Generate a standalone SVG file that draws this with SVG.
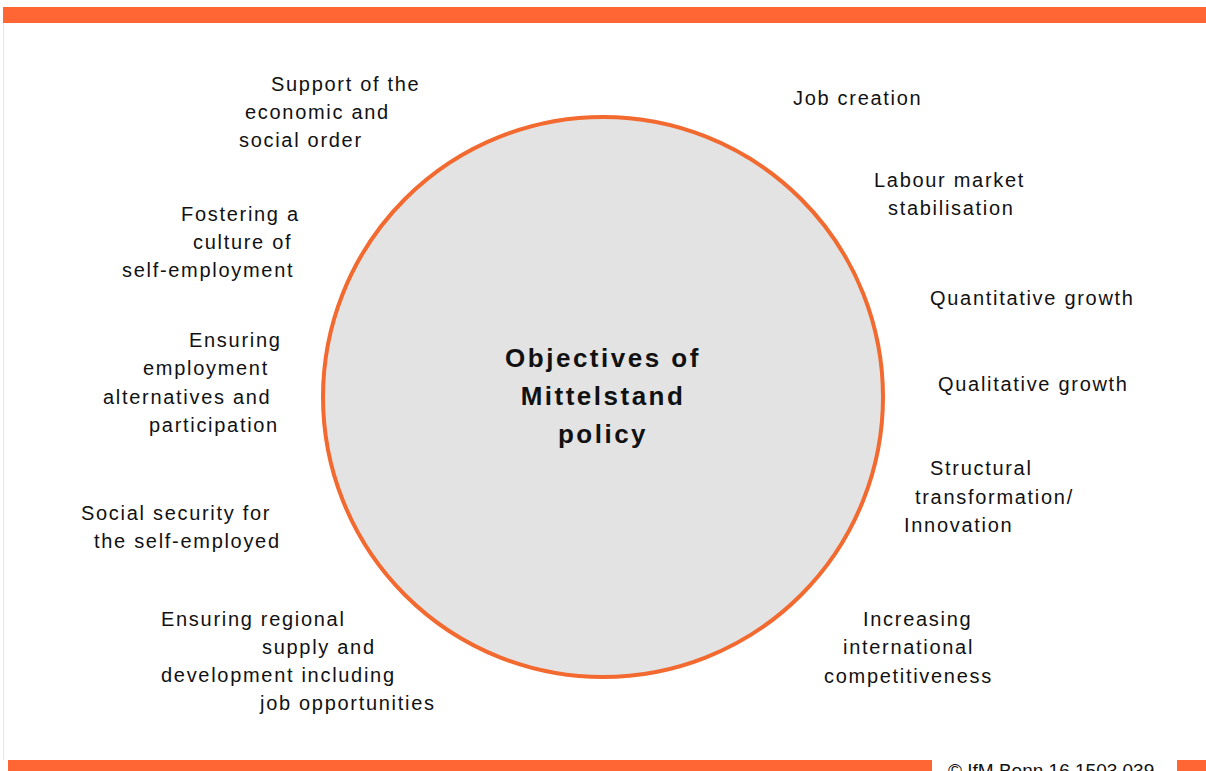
<svg xmlns="http://www.w3.org/2000/svg" width="1206" height="771" viewBox="0 0 1206 771">
<style>
.bar{fill:#FF6633}
.lbl{font-family:"Liberation Sans",Arial,sans-serif;font-size:20px;fill:#111;letter-spacing:1.7px}
.title{font-family:"Liberation Sans",Arial,sans-serif;font-size:26px;font-weight:bold;fill:#111;letter-spacing:2.5px;text-anchor:middle}
.copy{font-family:"Liberation Sans",Arial,sans-serif;font-size:19px;fill:#111}
</style>
<rect width="1206" height="771" fill="#ffffff"/>
<g id="frame">
<line x1="3.5" y1="23" x2="3.5" y2="760" stroke="#e6e6e6" stroke-width="1"/>
<rect class="bar" x="3" y="7" width="1203" height="16"/>
<rect class="bar" x="8" y="760" width="924" height="12"/>
<rect class="bar" x="1177" y="760" width="29" height="12"/>
<text class="copy" x="948" y="777">© IfM Bonn 16 1503 039</text>
</g>
<g id="center">
<circle cx="603" cy="397" r="280" fill="#e3e3e3" stroke="#F26A30" stroke-width="4"/>
<text class="title" x="603" y="367">Objectives of</text>
<text class="title" x="603" y="405">Mittelstand</text>
<text class="title" x="603" y="443">policy</text>
</g>
<g id="connectors"></g>
<g id="obj-support">
<text class="lbl" x="271" y="91">Support of the</text>
<text class="lbl" x="245" y="119">economic and</text>
<text class="lbl" x="239" y="147">social order</text>
</g>
<g id="obj-culture">
<text class="lbl" x="181" y="221">Fostering a</text>
<text class="lbl" x="193" y="249">culture of</text>
<text class="lbl" x="122" y="277">self-employment</text>
</g>
<g id="obj-employment">
<text class="lbl" x="189" y="347">Ensuring</text>
<text class="lbl" x="143" y="375">employment</text>
<text class="lbl" x="103" y="404">alternatives and</text>
<text class="lbl" x="149" y="432">participation</text>
</g>
<g id="obj-social">
<text class="lbl" x="81" y="520">Social security for</text>
<text class="lbl" x="94" y="548">the self-employed</text>
</g>
<g id="obj-regional">
<text class="lbl" x="161" y="626">Ensuring regional</text>
<text class="lbl" x="262" y="654">supply and</text>
<text class="lbl" x="161" y="682">development including</text>
<text class="lbl" x="260" y="710">job opportunities</text>
</g>
<g id="obj-jobs">
<text class="lbl" x="793" y="105">Job creation</text>
</g>
<g id="obj-labour">
<text class="lbl" x="874" y="187">Labour market</text>
<text class="lbl" x="888" y="215">stabilisation</text>
</g>
<g id="obj-quant">
<text class="lbl" x="930" y="305">Quantitative growth</text>
</g>
<g id="obj-qual">
<text class="lbl" x="938" y="391">Qualitative growth</text>
</g>
<g id="obj-structural">
<text class="lbl" x="930" y="475">Structural</text>
<text class="lbl" x="915" y="504">transformation/</text>
<text class="lbl" x="904" y="532">Innovation</text>
</g>
<g id="obj-competitiveness">
<text class="lbl" x="863" y="626">Increasing</text>
<text class="lbl" x="843" y="654">international</text>
<text class="lbl" x="824" y="683">competitiveness</text>
</g>
</svg>
